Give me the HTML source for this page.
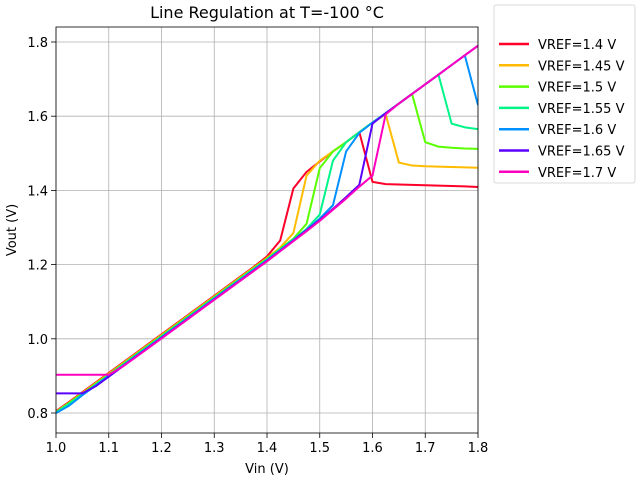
<!DOCTYPE html>
<html><head><meta charset="utf-8"><style>
body{margin:0;background:#fff;}
svg{font-family:"DejaVu Sans","Liberation Sans",sans-serif;}
</style></head><body>
<svg id="c" width="640" height="480" viewBox="0 0 640 480"></svg>
<script>
const xValues=[1.0,1.025,1.05,1.075,1.1,1.125,1.15,1.175,1.2,1.225,1.25,1.275,1.3,1.325,1.35,1.375,1.4,1.425,1.45,1.475,1.5,1.525,1.55,1.575,1.6,1.625,1.65,1.675,1.7,1.725,1.75,1.775,1.8];
const seriesNames=["VREF=1.4 V","VREF=1.45 V","VREF=1.5 V","VREF=1.55 V","VREF=1.6 V","VREF=1.65 V","VREF=1.7 V"];
const seriesColors=["#ff0029","#ffbb00","#5aff00","#00f589","#0090ff","#5a00ff","#ff00bf"];
const vref140=[0.805,0.830,0.856,0.882,0.908,0.934,0.960,0.986,1.012,1.038,1.064,1.090,1.116,1.142,1.168,1.194,1.222,1.265,1.405,1.450,1.478,1.505,1.530,1.557,1.423,1.417,1.416,1.415,1.414,1.413,1.412,1.411,1.409];
const vref145=[0.803,0.828,0.854,0.880,0.906,0.932,0.958,0.984,1.010,1.036,1.062,1.088,1.114,1.140,1.166,1.192,1.218,1.246,1.285,1.440,1.480,1.505,1.530,1.557,1.583,1.605,1.475,1.467,1.465,1.464,1.463,1.462,1.461];
const vref150=[0.802,0.827,0.852,0.878,0.904,0.930,0.956,0.982,1.008,1.034,1.060,1.086,1.112,1.138,1.164,1.190,1.216,1.243,1.270,1.310,1.460,1.505,1.530,1.557,1.583,1.608,1.634,1.660,1.530,1.518,1.515,1.513,1.512];
const vref155=[0.801,0.825,0.850,0.876,0.902,0.928,0.954,0.980,1.006,1.032,1.058,1.084,1.110,1.136,1.162,1.188,1.214,1.241,1.268,1.296,1.335,1.480,1.530,1.557,1.583,1.608,1.634,1.660,1.686,1.712,1.580,1.570,1.565];
const vref160=[0.800,0.820,0.848,0.874,0.900,0.926,0.952,0.978,1.004,1.030,1.056,1.082,1.108,1.134,1.160,1.186,1.212,1.239,1.266,1.294,1.324,1.360,1.505,1.555,1.583,1.608,1.634,1.660,1.686,1.712,1.738,1.764,1.630];
const vref165=[0.853,0.853,0.853,0.872,0.898,0.924,0.950,0.976,1.002,1.028,1.054,1.080,1.106,1.132,1.158,1.184,1.210,1.237,1.264,1.292,1.320,1.350,1.382,1.415,1.580,1.608,1.634,1.660,1.686,1.712,1.738,1.764,1.790];
const vref170=[0.903,0.903,0.903,0.903,0.903,0.924,0.949,0.975,1.001,1.027,1.053,1.079,1.105,1.131,1.157,1.183,1.209,1.236,1.263,1.290,1.318,1.348,1.378,1.410,1.440,1.605,1.634,1.660,1.686,1.712,1.738,1.764,1.790];
const allSeries=[vref140,vref145,vref150,vref155,vref160,vref165,vref170];
const xTicks=[1.0,1.1,1.2,1.3,1.4,1.5,1.6,1.7,1.8];
const xTickLabels=["1.0","1.1","1.2","1.3","1.4","1.5","1.6","1.7","1.8"];
const yTicks=[0.8,1.0,1.2,1.4,1.6,1.8];
const yTickLabels=["0.8","1.0","1.2","1.4","1.6","1.8"];

const NS="http://www.w3.org/2000/svg";
const svg=document.getElementById('c');
const L=56,R=478,T=27,B=433;
const sx=v=>L+(v-1.0)/0.8*(R-L);
const sy=v=>413-(v-0.8)/1.0*371;
function mk(tag,attrs,parent){const e=document.createElementNS(NS,tag);for(const k in attrs)e.setAttribute(k,attrs[k]);(parent||svg).appendChild(e);return e;}

const grid=mk('g',{});


xTicks.forEach((t,i)=>{
  const x=sx(t);
  const gl=mk('line',{x1:x,x2:x,y1:T,y2:B,stroke:'#b0b0b0','stroke-width':0.8},grid);
  
  
  mk('line',{x1:x,x2:x,y1:B,y2:B+5,stroke:'#000','stroke-width':0.8});
  const tx=mk('text',{x:x,y:B+19,'text-anchor':'middle','font-size':13});
  tx.textContent=xTickLabels[i];
  
  
});
yTicks.forEach((t,i)=>{
  const y=sy(t);
  const gl=mk('line',{x1:L,x2:R,y1:y,y2:y,stroke:'#b0b0b0','stroke-width':0.8},grid);
  
  
  mk('line',{x1:L-5,x2:L,y1:y,y2:y,stroke:'#000','stroke-width':0.8});
  const tx=mk('text',{x:L-8,y:y+5,'text-anchor':'end','font-size':13});
  tx.textContent=yTickLabels[i];
  
  
});
mk('clipPath',{id:'clip'}); mk('rect',{x:L,y:T,width:R-L,height:B-T},svg.lastChild);
allSeries.forEach((s,k)=>{
  const p=mk('polyline',{points:s.map((v,i)=>sx(xValues[i])+','+sy(v)).join(' '),fill:'none',stroke:seriesColors[k],'stroke-width':2,'clip-path':'url(#clip)','stroke-linejoin':'round'});
  
  
});
const frame=mk('rect',{x:L,y:T,width:R-L,height:B-T,fill:'none',stroke:'#000','stroke-width':0.8});


const title=mk('text',{x:267,y:18,'text-anchor':'middle','font-size':16});
title.textContent='Line Regulation at T=-100 °C';


const xl=mk('text',{x:267,y:473,'text-anchor':'middle','font-size':13});
xl.textContent='Vin (V)';


const yl=mk('text',{x:16,y:230,'text-anchor':'middle','font-size':13,transform:'rotate(-90 16 230)'});
yl.textContent='Vout (V)';


const lg=mk('g',{});


mk('rect',{x:494,y:5,width:141,height:178,rx:2,fill:'#fff',stroke:'#d0d0d0','stroke-width':0.8},lg);
seriesNames.forEach((n,k)=>{
  const y=44+k*21.3;
  const ln=mk('line',{x1:499,x2:529,y1:y,y2:y,stroke:seriesColors[k],'stroke-width':2.5},lg);
  
  
  const t=mk('text',{x:538,y:y+5,'font-size':13},lg);
  t.textContent=n;
  
  
});
</script>
</body></html>
